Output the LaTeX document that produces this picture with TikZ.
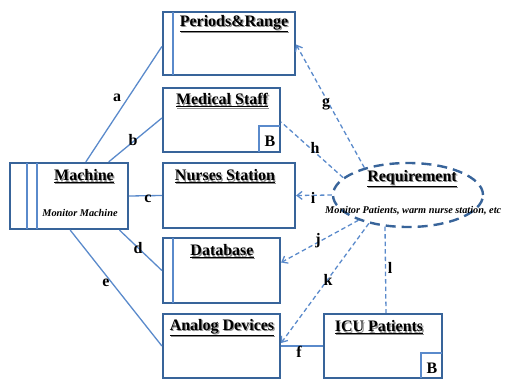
\documentclass[tikz,border=0pt]{standalone}
\usepackage{fontspec}
\setmainfont{Liberation Serif}
\usetikzlibrary{shapes.geometric,arrows.meta,calc}

\definecolor{boxblue}{HTML}{38649A}
\definecolor{lineblue}{HTML}{5A8ACB}
\definecolor{shade}{HTML}{8E8E8E}

% bold underlined title with a soft grey drop shadow
\newcommand{\shtitle}[1]{%
  \makebox[0pt][l]{\raisebox{-1.2pt}{\hspace{1.2pt}\color{shade}\underline{#1}}}%
  \underline{#1}}

\tikzset{
  umlbox/.style={draw=boxblue, line width=2.2pt, fill=white, inner sep=0pt},
  inner/.style={draw=lineblue, line width=1.4pt},
  title/.style={font=\bfseries\fontsize{16}{18}\selectfont, inner sep=0pt},
  sub/.style={font=\bfseries\itshape\fontsize{10.3}{12}\selectfont, inner sep=0pt},
  lbl/.style={font=\bfseries\fontsize{16}{18}\selectfont, inner sep=0pt},
  bmark/.style={font=\bfseries\fontsize{16}{18}\selectfont, inner sep=0pt},
  link/.style={draw=lineblue, line width=1.3pt},
  dlink/.style={draw=lineblue, line width=1.3pt, dash pattern=on 4.5pt off 3pt},
  darrow/.style={dlink, -{Straight Barb[length=5pt,width=8pt,line width=1.3pt]}},
}

\begin{document}
\begin{tikzpicture}[x=1pt,y=-1pt]
\useasboundingbox (0,0) rectangle (508,379);

% ---- boxes ----
\node[umlbox, minimum width=132pt, minimum height=63pt] (per) at (229,43.5) {};
\draw[inner] (173,12) -- (173,75);
\node[umlbox, minimum width=117pt, minimum height=64pt] (med) at (221.5,120) {};
\draw[inner] (259,152) -- (259,126) -- (280,126);
\node[umlbox, minimum width=118pt, minimum height=66pt] (mach) at (69,196) {};
\draw[inner] (27,163) -- (27,229);
\draw[inner] (37,163) -- (37,229);
\node[umlbox, minimum width=132pt, minimum height=65pt] (nur) at (229,195.5) {};
\node[umlbox, minimum width=117pt, minimum height=65pt] (db) at (221.5,270.5) {};
\draw[inner] (173,238) -- (173,303);
\node[umlbox, minimum width=117pt, minimum height=64pt] (ana) at (221.5,346) {};
\node[umlbox, minimum width=118pt, minimum height=64pt] (icu) at (383,346) {};
\draw[inner] (421,378) -- (421,353) -- (442,353);

\node[ellipse, draw=boxblue, line width=2.4pt, dash pattern=on 10pt off 6pt,
      minimum width=150pt, minimum height=64pt, fill=white] (req) at (408,195) {};

% ---- texts ----
\node[title] (tper) at (234,24) {\shtitle{Periods\&Range}};
\node[title] (tmed) at (222,101) {\shtitle{Medical Staff}};
\node[bmark] (bmed) at (270,141) {B};
\node[title] (tmach) at (84,177) {\shtitle{Machine}};
\node[sub] (smach) at (80,213) {Monitor Machine};
\node[title] (tnur) at (225,177) {\shtitle{Nurses Station}};
\node[title] (tdb) at (222,252) {\shtitle{Database}};
\node[title] (tana) at (222,328) {\shtitle{Analog Devices}};
\node[title] (ticu) at (379,328) {\shtitle{ICU Patients}};
\node[bmark] (bicu) at (432,368) {B};
\node[title] (treq) at (412,179) {\shtitle{Requirement}};
\node[sub, anchor=west] (sreq) at (325,211) {Monitor Patients, warm nurse station, etc};

% ---- solid associations ----
\draw[link] ($(mach.north west)!0.64!(mach.north east)$) -- ([yshift=-3pt]per.west);
\draw[link] ($(mach.north west)!0.83!(mach.north east)$) -- ([yshift=2pt]med.west);
\draw[link] (mach.east) -- (nur.west);
\draw[link] ($(mach.south west)!0.92!(mach.south east)$) -- (db.west);
\draw[link] ($(mach.south west)!0.51!(mach.south east)$) -- (ana.west);
\draw[link] (ana.east) -- (icu.west);

% ---- dashed dependencies ----
\draw[darrow] (req.148) -- ([yshift=-1pt]per.east);
\draw[dlink] (req.165) -- ([yshift=-2pt]med.east);
\draw[darrow] (req.west) -- (nur.east);
\draw[darrow] (req.207) -- ([yshift=8pt]db.east);
\draw[darrow] (req.216) -- ([yshift=3pt]ana.east);
\draw[dlink] (req.234) -- ([xshift=3pt]icu.north);

% ---- labels ----
\node[lbl] (la) at (117,98) {a};
\node[lbl] (lb) at (133,140) {b};
\node[lbl] (lc) at (148,199) {c};
\node[lbl] (ld) at (138,248) {d};
\node[lbl] (le) at (106,283) {e};
\node[lbl] (lf) at (299,352) {f};
\node[lbl] (lg) at (326,104) {g};
\node[lbl] (lh) at (315,148) {h};
\node[lbl] (li) at (313,198) {i};
\node[lbl] (lj) at (318,241) {j};
\node[lbl] (lk) at (328,280) {k};
\node[lbl] (ll) at (390,268) {l};
\end{tikzpicture}
\end{document}
